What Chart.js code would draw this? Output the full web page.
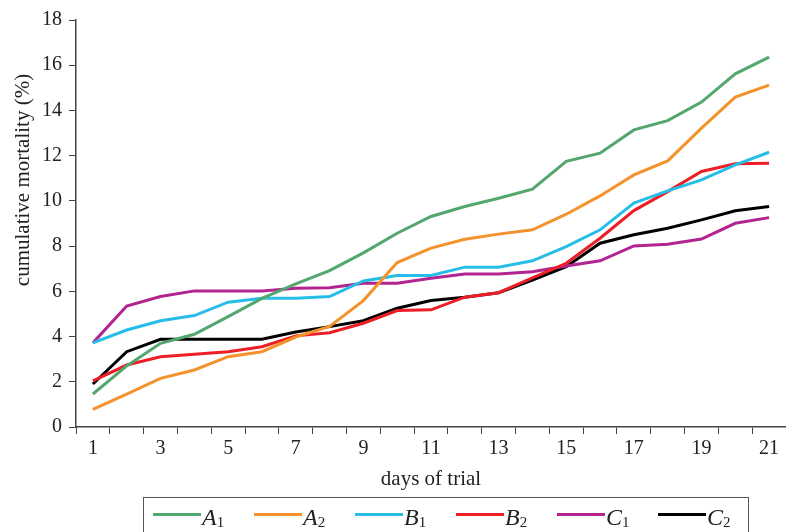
<!DOCTYPE html>
<html>
<head>
<meta charset="utf-8">
<script src="https://cdn.jsdelivr.net/npm/chart.js@4.4.1/dist/chart.umd.min.js"></script>
<style>
  html, body { margin: 0; padding: 0; background: #fff; }
  #wrap { position: relative; width: 786px; height: 532px; overflow: hidden; }
  #legend {
    position: absolute; left: 143px; top: 497px; width: 606px; height: 44px;
    border: 1px solid #555; box-sizing: border-box;
    font-family: "Liberation Serif", serif; color: #222;
  }
  .item { position: absolute; top: 0; height: 40px; width: 100px; }
  .swatch { position: absolute; left: 0; top: 15px; width: 48px; height: 3px; }
  .lbl { position: absolute; left: 49px; top: 7px; font-size: 24px; line-height: 1; font-style: italic; white-space: nowrap; }
  .lbl sub { font-size: 15px; vertical-align: -2px; font-style: normal; }
</style>
</head>
<body>
<div id="wrap">
  <canvas id="chart" width="786" height="532"></canvas>
  <div id="legend"></div>
</div>
<script>
// chart data
const days = ['1','2','3','4','5','6','7','8','9','10','11','12','13','14','15','16','17','18','19','20','21'];
const seriesNames = [['A','1'], ['A','2'], ['B','1'], ['B','2'], ['C','1'], ['C','2']];
const seriesColors = ['#52a66e', '#f4922c', '#27bde9', '#ec1f27', '#b2248f', '#000000'];

const A1 = [1.46, 2.70, 3.70, 4.10, 4.88, 5.69, 6.33, 6.92, 7.70, 8.57, 9.31, 9.75, 10.12, 10.52, 11.75, 12.11, 13.14, 13.55, 14.37, 15.62, 16.36];
const A2 = [0.78, 1.45, 2.15, 2.52, 3.11, 3.33, 3.98, 4.45, 5.59, 7.27, 7.91, 8.30, 8.53, 8.72, 9.41, 10.22, 11.15, 11.77, 13.22, 14.59, 15.12];
const B1 = [3.72, 4.29, 4.70, 4.93, 5.52, 5.69, 5.69, 5.77, 6.46, 6.70, 6.70, 7.07, 7.07, 7.35, 7.98, 8.72, 9.90, 10.44, 10.93, 11.59, 12.15];
const B2 = [2.04, 2.74, 3.11, 3.22, 3.33, 3.55, 4.03, 4.17, 4.59, 5.15, 5.18, 5.74, 5.94, 6.60, 7.24, 8.35, 9.57, 10.41, 11.30, 11.64, 11.67];
const C1 = [3.72, 5.35, 5.77, 6.02, 6.02, 6.02, 6.14, 6.16, 6.36, 6.36, 6.58, 6.77, 6.77, 6.87, 7.12, 7.35, 8.01, 8.08, 8.31, 9.01, 9.26];
const C2 = [1.90, 3.33, 3.88, 3.88, 3.88, 3.88, 4.20, 4.44, 4.70, 5.25, 5.59, 5.74, 5.94, 6.50, 7.09, 8.13, 8.50, 8.79, 9.16, 9.56, 9.75];
const seriesData = [A1, A2, B1, B2, C1, C2];

const yTicks = [0, 2, 4, 6, 8, 10, 12, 14, 16, 18];
const yTitle = 'cumulative mortality (%)';
const xTitle = 'days of trial';

const tickFont = { family: '"Liberation Serif", serif', size: 20 };
const titleFont = { family: '"Liberation Serif", serif', size: 21 };
const axisColor = '#444';
const textColor = '#222';

const datasets = seriesData.map((vals, i) => ({
    label: seriesNames[i].join(''),
    data: vals,
    borderColor: seriesColors[i],
    backgroundColor: seriesColors[i],
    borderWidth: 3,
    pointRadius: 0,
    tension: 0,
    fill: false
}));

// y axis title sits higher than the axis centre in the original, so draw it here
const yTitlePlugin = {
    id: 'yTitle',
    afterDraw(chart) {
        const c = chart.ctx;
        c.save();
        c.translate(23, 180);
        c.rotate(-Math.PI / 2);
        c.font = titleFont.size + 'px ' + titleFont.family;
        c.fillStyle = textColor;
        c.textAlign = 'center';
        c.textBaseline = 'middle';
        c.fillText(yTitle, 0, 0);
        c.restore();
    }
};

const ctx = document.getElementById('chart');
const chart = new Chart(ctx, {
    type: 'line',
    data: { labels: days, datasets: datasets },
    plugins: [yTitlePlugin],
    options: {
        responsive: false,
        animation: false,
        layout: { padding: { top: 20, right: 0, bottom: 40, left: 0 } },
        plugins: {
            legend: { display: false },
            tooltip: { enabled: false }
        },
        scales: {
            x: {
                type: 'category',
                offset: true,
                grid: {
                    offset: true,
                    drawOnChartArea: false,
                    drawTicks: true,
                    tickLength: 7,
                    color: axisColor
                },
                border: { color: axisColor, width: 1.5 },
                ticks: {
                    autoSkip: false,
                    maxRotation: 0,
                    padding: 3,
                    color: textColor,
                    font: tickFont,
                    callback: function (value, index) {
                        return index % 2 === 0 ? days[index] : '';
                    }
                },
                title: {
                    display: true,
                    text: xTitle,
                    color: textColor,
                    font: titleFont,
                    padding: { top: 0, bottom: 0 }
                },
                afterFit: (scale) => { scale.height = 65; }
            },
            y: {
                min: 0,
                max: 18,
                afterBuildTicks: (scale) => { scale.ticks = yTicks.map(v => ({ value: v })); },
                grid: {
                    drawOnChartArea: false,
                    drawTicks: true,
                    tickLength: 7,
                    color: axisColor
                },
                border: { color: axisColor, width: 1.5 },
                ticks: {
                    padding: 7,
                    color: textColor,
                    font: tickFont
                },
                afterFit: (scale) => { scale.width = 76; }
            }
        }
    }
});

// HTML legend, built from the chart's datasets
const legendEl = document.getElementById('legend');
chart.data.datasets.forEach((ds, i) => {
    const item = document.createElement('div');
    item.className = 'item';
    item.style.left = (9 + i * 101) + 'px';
    item.innerHTML = '<span class="swatch" style="background:' + ds.borderColor + '"></span>' +
        '<span class="lbl">' + seriesNames[i][0] + '<sub>' + seriesNames[i][1] + '</sub></span>';
    legendEl.appendChild(item);
});
</script>
</body>
</html>
